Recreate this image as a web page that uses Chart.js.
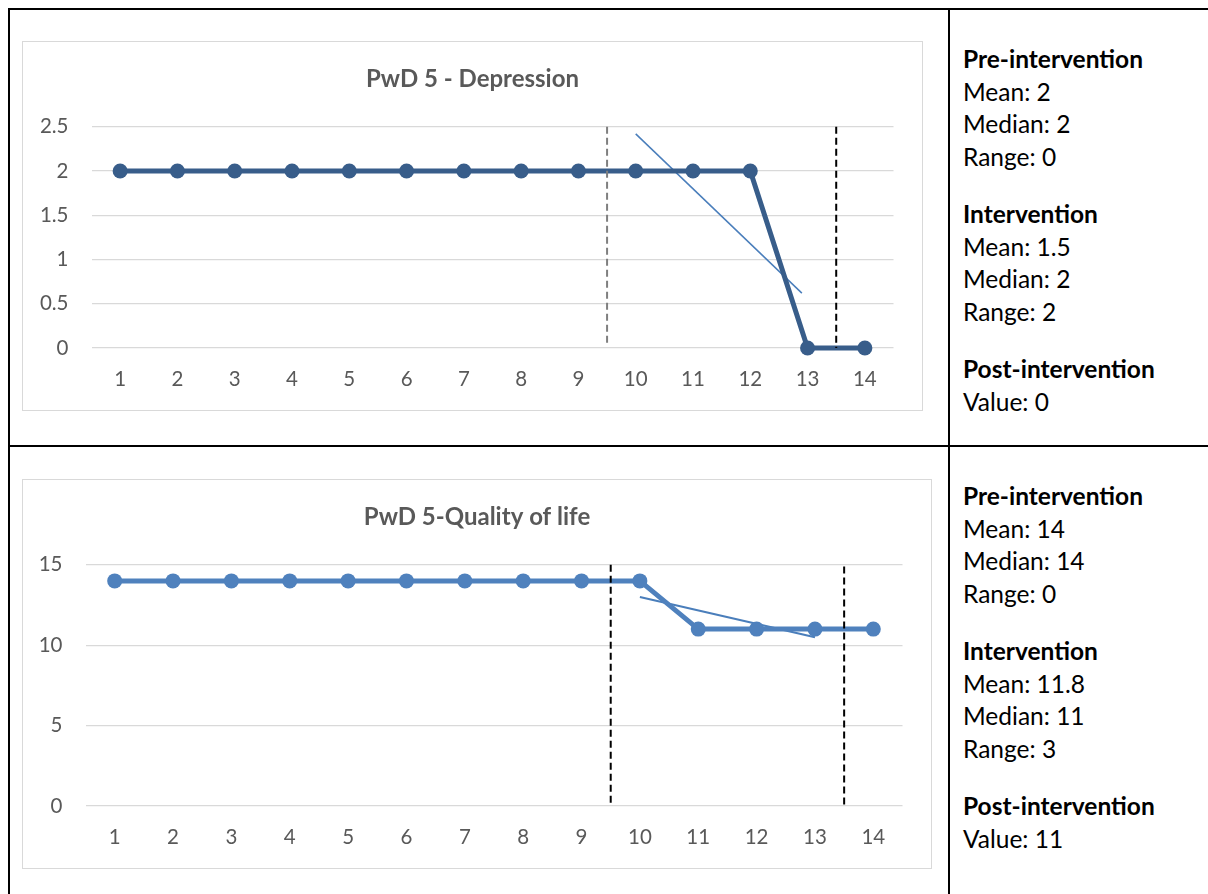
<!DOCTYPE html>
<html>
<head>
<meta charset="utf-8">
<script src="https://cdn.jsdelivr.net/npm/chart.js@4"></script>
<style>
  body { margin: 0; background: #fff; width: 1208px; height: 894px; overflow: hidden; position: relative; font-family: Lato, "Open Sans", sans-serif; }
  .rule { position: absolute; background: #000; }
  .box { position: absolute; border: 1.5px solid #d9d9d9; box-sizing: border-box; }
  .box canvas { display: block; }
  .notes { position: absolute; left: 963px; font-size: 24.5px; line-height: 32.5px; color: #000; }
  .notes b { display: block; }
  .notes p { margin: 0 0 25px 0; }
</style>
</head>
<body>
<div class="rule" style="left:8px;top:8px;width:1200px;height:2px"></div>
<div class="rule" style="left:8px;top:8px;width:2px;height:886px"></div>
<div class="rule" style="left:948px;top:8px;width:2px;height:886px"></div>
<div class="rule" style="left:8px;top:445px;width:1200px;height:2px"></div>

<div class="box" style="left:22px;top:41px;width:901px;height:370px"><canvas id="chart_depression"></canvas></div>
<div class="box" style="left:22px;top:479px;width:910px;height:390px"><canvas id="chart_qol"></canvas></div>

<div class="notes" style="top:43px">
  <p><b>Pre-intervention</b>Mean: 2<br>Median: 2<br>Range: 0</p>
  <p><b>Intervention</b>Mean: 1.5<br>Median: 2<br>Range: 2</p>
  <p><b>Post-intervention</b>Value: 0</p>
</div>
<div class="notes" style="top:480px">
  <p><b>Pre-intervention</b>Mean: 14<br>Median: 14<br>Range: 0</p>
  <p><b>Intervention</b>Mean: 11.8<br>Median: 11<br>Range: 3</p>
  <p><b>Post-intervention</b>Value: 11</p>
</div>

<script>
// sessions 1..14
var sessions = [1, 2, 3, 4, 5, 6, 7, 8, 9, 10, 11, 12, 13, 14];

// PwD 5 - Depression
var depression = [2, 2, 2, 2, 2, 2, 2, 2, 2, 2, 2, 2, 0, 0];
var depressionTrendX = [10, 12.9];
var depressionTrendY = [2.42, 0.62];
var depressionTicks = [0, 0.5, 1, 1.5, 2, 2.5];
var depressionPhaseX = [9.5, 13.5];
var depressionPhaseTop = [2.5, 2.5];
var depressionPhaseBottom = [0.05, 0];

// PwD 5 - Quality of life
var qol = [14, 14, 14, 14, 14, 14, 14, 14, 14, 14, 11, 11, 11, 11];
var qolTrendX = [10, 13];
var qolTrendY = [13.0, 10.5];
var qolTicks = [0, 5, 10, 15];
var qolPhaseX = [9.5, 13.5];
var qolPhaseTop = [15, 14.9];
var qolPhaseBottom = [0, -0.05];

var axisFont = { family: 'Lato', size: 20.5 };
var gray = '#595959';

function toPoints(xs, ys) {
    return xs.map(function (x, i) { return { x: x, y: ys[i] }; });
}

function makeChart(id, cfg) {
    var canvas = document.getElementById(id);
    var box = canvas.parentNode;
    canvas.width = box.clientWidth;
    canvas.height = box.clientHeight;

    var datasets = [];
    // phase change lines
    cfg.phaseX.forEach(function (x, i) {
        datasets.push({
            data: [{ x: x, y: cfg.phaseTop[i] }, { x: x, y: cfg.phaseBottom[i] }],
            borderColor: cfg.phaseColors[i],
            borderWidth: 2,
            borderDash: [7, 4],
            pointRadius: 0,
            fill: false
        });
    });
    // main series
    datasets.push({
        data: toPoints(sessions, cfg.values),
        borderColor: cfg.color,
        backgroundColor: cfg.color,
        borderWidth: 5,
        pointRadius: 7.5,
        pointBorderWidth: 0,
        tension: 0
    });
    // trend line over the intervention phase
    datasets.push({
        data: toPoints(cfg.trendX, cfg.trendY),
        borderColor: '#4a7ebb',
        borderWidth: cfg.trendWidth,
        pointRadius: 0
    });

    return new Chart(canvas.getContext('2d'), {
        type: 'line',
        data: { datasets: datasets },
        options: {
            responsive: false,
            animation: false,
            clip: false,
            layout: { padding: 0 },
            plugins: {
                legend: { display: false },
                tooltip: { enabled: false },
                title: {
                    display: true,
                    text: cfg.title,
                    color: gray,
                    font: { family: 'Lato', size: 24, weight: 'bold', lineHeight: 1.2 },
                    padding: { top: 23, bottom: 33 }
                }
            },
            scales: {
                x: {
                    type: 'linear',
                    min: 0.5,
                    max: 14.5,
                    afterBuildTicks: function (scale) {
                        scale.ticks = sessions.map(function (v) { return { value: v }; });
                    },
                    afterFit: function (scale) { scale.height = 62; },
                    grid: { display: false, drawTicks: false },
                    border: { display: false },
                    ticks: { color: gray, font: axisFont, padding: 19, autoSkip: false, maxRotation: 0 }
                },
                y: {
                    min: cfg.ticks[0],
                    max: cfg.ticks[cfg.ticks.length - 1],
                    afterBuildTicks: function (scale) {
                        scale.ticks = cfg.ticks.map(function (v) { return { value: v }; });
                    },
                    afterFit: function (scale) { scale.width = cfg.yWidth; },
                    grid: { color: '#d9d9d9', lineWidth: 1.3, drawTicks: false },
                    border: { display: false },
                    ticks: {
                        color: gray, font: axisFont, padding: 23,
                        callback: function (v) { return String(v); }
                    }
                },
                // empty axis on the right, only to keep the margin there
                // (layout padding would pull the title off centre)
                spacer: {
                    type: 'linear',
                    position: 'right',
                    afterFit: function (scale) { scale.width = 28.5; },
                    grid: { display: false, drawTicks: false },
                    border: { display: false },
                    ticks: { display: false }
                }
            }
        }
    });
}

makeChart('chart_depression', {
    title: 'PwD 5 - Depression',
    values: depression,
    color: '#385d8a',
    trendX: depressionTrendX,
    trendY: depressionTrendY,
    trendWidth: 1.5,
    ticks: depressionTicks,
    phaseX: depressionPhaseX,
    phaseTop: depressionPhaseTop,
    phaseBottom: depressionPhaseBottom,
    phaseColors: ['#7f7f7f', '#000000'],
    yWidth: 68.5
});

makeChart('chart_qol', {
    title: 'PwD 5-Quality of life',
    values: qol,
    color: '#4f81bd',
    trendX: qolTrendX,
    trendY: qolTrendY,
    trendWidth: 2,
    ticks: qolTicks,
    phaseX: qolPhaseX,
    phaseTop: qolPhaseTop,
    phaseBottom: qolPhaseBottom,
    phaseColors: ['#000000', '#000000'],
    yWidth: 62.5
});
</script>
</body>
</html>
